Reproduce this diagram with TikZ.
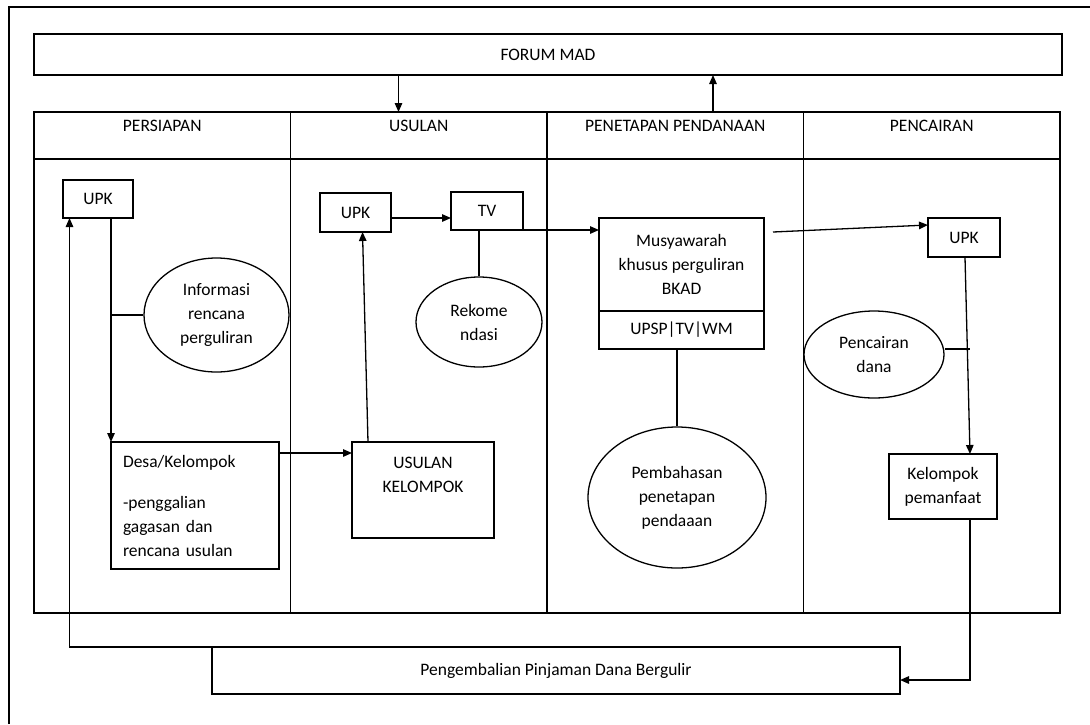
\documentclass[tikz,border=0pt]{standalone}
\usepackage{fontspec}
\setmainfont{Carlito}
\usetikzlibrary{arrows.meta, positioning, calc, shapes.geometric}
\tikzset{
  kotak/.style={draw, rectangle, inner sep=0pt, outer sep=0pt, align=center},
  elips/.style={draw, ellipse, inner sep=0pt, align=center},
  kepala/.style={kotak, minimum width=256.5, minimum height=47, text height=12, text depth=21},
  lajur/.style={kotak, minimum width=256.5, minimum height=454},
  panah/.style={-{Triangle[length=9pt, width=7.5pt]}}
}

\begin{document}
\begin{tikzpicture}[x=1pt, y=1pt, line width=1.3pt,
    every node/.style={font=\fontsize{17.5}{24}\selectfont}]
  \useasboundingbox (0,0) rectangle (1090,-724);
  % bingkai luar
  \draw[line width=2pt] (9,-724) -- (9,-7) -- (1090,-7);

  \node[kotak, minimum width=1028, minimum height=41] (forum) at (548,-54.5) {FORUM MAD};

  % kolom tahapan
  \node[kepala] (persiapan) at (162.25,-135.5) {PERSIAPAN};
  \node[kepala, right=0pt of persiapan] (usulan) {USULAN};
  \node[kepala, right=0pt of usulan] (penetapan) {PENETAPAN PENDANAAN};
  \node[kepala, right=0pt of penetapan] (pencairan) {PENCAIRAN};
  \node[lajur, below=0pt of persiapan] (lajur1) {};
  \node[lajur, below=0pt of usulan] (lajur2) {};
  \node[lajur, below=0pt of penetapan] (lajur3) {};
  \node[lajur, below=0pt of pencairan] (lajur4) {};

  \coordinate (turun) at ($(usulan.north west)+(108,0)$);
  \coordinate (naik) at ($(penetapan.north west)+(166,0)$);
  \draw[panah] (turun |- forum.south) -- (turun);
  \draw[panah] (naik) -- (naik |- forum.south);

  % persiapan
  \node[kotak, minimum width=70, minimum height=38] (upk1) at (98,-199) {UPK};
  \node[elips, minimum width=145, minimum height=114] (info) at (216.5,-315) {Informasi\\rencana\\perguliran};
  \node[kotak, minimum width=168, minimum height=127, text width=144, align=left] (desa) at (195,-505.5)
    {Desa/Kelompok\\[17pt]-penggalian\\gagasan dan\\rencana usulan};
  \draw[panah] (upk1.south -| desa.north west) -- (desa.north west);
  \draw (info.west) -- (info.west -| desa.north west);

  % usulan
  \node[kotak, minimum width=71, minimum height=39] (upk2) at (355.5,-212.5) {UPK};
  \node[kotak, minimum width=72, minimum height=38] (tv) at (487,-211) {TV};
  \node[elips, minimum width=126, minimum height=90] (rekom) at (479,-322) {Rekome\\ndasi};
  \node[kotak, minimum width=142, minimum height=96] (usulankel) at (423,-490) {USULAN\\KELOMPOK\\[6pt]};
  \draw[panah] ($(desa.north east)+(0,-11)$) -- ($(usulankel.north west)+(0,-11)$);
  \draw[panah] ($(usulankel.north west)+(16,0)$) -- ($(upk2.south west)+(42.5,0)$);
  \draw[panah] ($(upk2.east)+(0,-5.5)$) -- ($(tv.west)+(0,-7)$);
  \draw (tv.south -| rekom.north) -- (rekom.north);

  % penetapan pendanaan
  \node[kotak, minimum width=165, minimum height=93] (musy) at (681.5,-264.5) {Musyawarah\\khusus perguliran\\BKAD};
  \node[kotak, minimum width=165, minimum height=38, below=0pt of musy] (upsp) {UPSP|TV|WM};
  \node[elips, minimum width=178, minimum height=141] (bahas) at (677,-497.5) {Pembahasan\\penetapan\\pendaaan};
  \draw[panah] (tv.south east) -- (tv.south east -| musy.west);
  \draw (upsp.south -| bahas.north) -- (bahas.north);

  % pencairan
  \node[kotak, minimum width=72, minimum height=39] (upk3) at (964,-237.5) {UPK};
  \node[elips, minimum width=140, minimum height=87] (cair) at (874,-354.5) {Pencairan\\dana};
  \node[kotak, minimum width=108, minimum height=65] (kelompok) at (943,-486.5) {Kelompok\\pemanfaat};
  \draw[panah] ($(musy.north east)+(9,-14)$) -- ($(upk3.north west)+(0,-7)$);
  \draw[panah] ($(upk3.south west)+(37,0)$) -- ($(kelompok.north west)+(81,0)$);
  \draw ($(cair.east)+(0,5.5)$) -- +(25,0);

  % pengembalian
  \node[kotak, minimum width=688, minimum height=47] (kembali) at (556,-670.5) {Pengembalian Pinjaman Dana Bergulir};
  \draw[panah] ($(kelompok.south west)+(81,0)$) |- ($(kembali.east)+(0,-9.5)$);
  \draw[panah] (kembali.north west) -| ($(upk1.south west)+(6.5,0)$);
\end{tikzpicture}
\end{document}
